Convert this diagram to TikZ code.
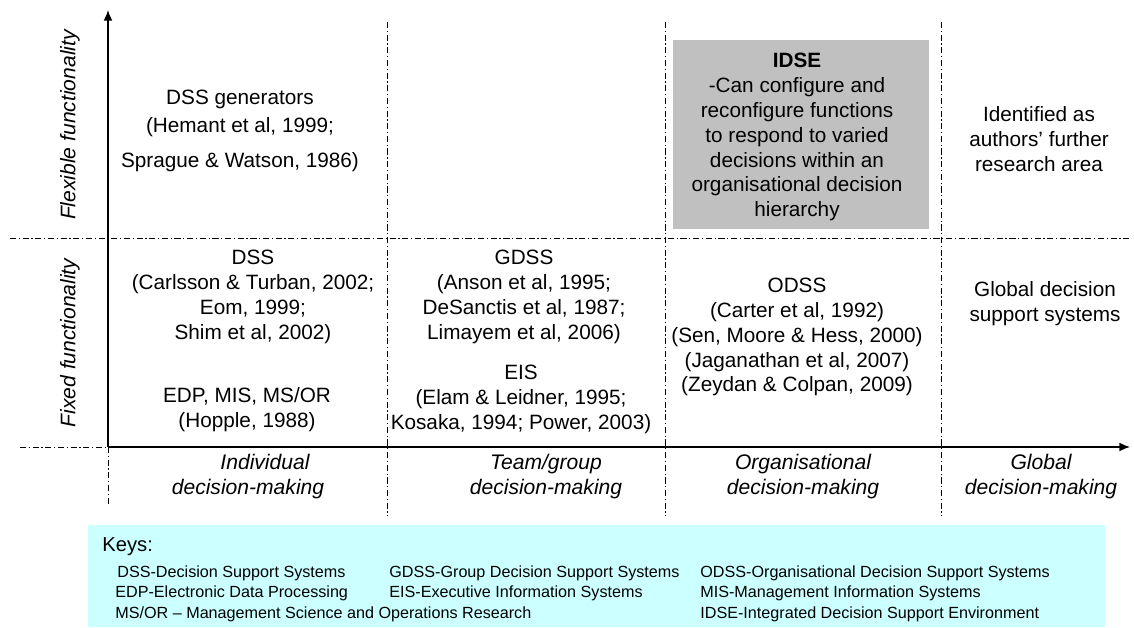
\documentclass[tikz,border=0pt]{standalone}
\usepackage{fontspec}
\setmainfont{Liberation Sans}
\usepackage{tikz}
\usetikzlibrary{positioning}
\usetikzlibrary{arrows.meta}

\definecolor{idsegray}{RGB}{192,192,192}
\definecolor{keycyan}{RGB}{204,255,255}

\begin{document}
\begin{tikzpicture}[x=0.02cm, y=-0.02cm,
    cell/.style = {align=center, inner sep=0pt, font=\fontsize{11.8}{14.2}\selectfont},
    axislabel/.style = {align=center, inner sep=0pt, font=\fontsize{12}{14.2}\selectfont\itshape},
    axis/.style = {line width=0.8pt, -{Latex[length=6pt, width=5pt]}},
    divider/.style = {line width=0.5pt, dash pattern=on 3.5pt off 1.5pt on 0.7pt off 1.5pt},
    keyline/.style = {anchor=west, inner sep=0pt, font=\fontsize{9.2}{11}\selectfont}]

    \useasboundingbox (0,0) rectangle (1134,628);

    % boxes behind the text
    \node[fill=idsegray, minimum width=5.12cm, minimum height=3.78cm] (idsebox) at (801,134.5) {};
    \node[fill=keycyan, minimum width=20.34cm, minimum height=2.04cm, anchor=north west] (keybox) at (88,525) {};

    % grid
    \coordinate (O) at (108,447);
    \coordinate (ytop) at (108,10);
    \coordinate (xend) at (1130,447);
    \coordinate (xstart) at (20,447);
    \coordinate (ybot) at (108,506);
    \coordinate (midL) at (10,238);
    \coordinate (midR) at (1130,238);
    \coordinate (d1t) at (387,22);
    \coordinate (d1b) at (387,516);
    \coordinate (d2t) at (665,22);
    \coordinate (d2b) at (665,516);
    \coordinate (d3t) at (941,22);
    \coordinate (d3b) at (941,516);

    \draw[divider] (midL) -- (midR);
    \draw[divider] (xstart) -- (O);
    \draw[divider] (O) -- (ybot);
    \draw[divider] (d1t) -- (d1b);
    \draw[divider] (d2t) -- (d2b);
    \draw[divider] (d3t) -- (d3b);
    \draw[axis] (O) -- (ytop);
    \draw[axis] (O) -- (xend);

    % vertical scale
    \node[axislabel, rotate=90] (flex) at (70,125) {Flexible functionality};
    \node[axislabel, rotate=90] (fixed) at (70,343) {Fixed functionality};

    % horizontal scale
    \node[axislabel] (indiv) at (248,477) {\hspace*{0.68cm}Individual\\ decision-making};
    \node[axislabel] (team) at (546,477) {Team/group\\ decision-making};
    \node[axislabel] (organ) at (803,477) {Organisational\\ decision-making};
    \node[axislabel] (global) at (1041,477) {Global\\ decision-making};

    % flexible row
    \node[cell] (gen) at (240,131) {DSS generators\\[1.7pt] (Hemant et al, 1999;\\[5.7pt] Sprague \& Watson, 1986)};
    \node[cell] (idse) at (797,137) {\textbf{IDSE}\\ -Can configure and\\ reconfigure functions\\ to respond to varied\\ decisions within an\\ organisational decision\\ hierarchy};
    \node[cell] (further) at (1039,139) {Identified as\\ authors' further\\ research area};

    % fixed row
    \node[cell] (dss) at (253,297) {DSS\\ (Carlsson \& Turban, 2002;\\ Eom, 1999;\\ Shim et al, 2002)};
    \node[cell] (edp) at (247,410) {EDP, MIS, MS/OR\\ (Hopple, 1988)};
    \node[cell] (gdss) at (524,297) {GDSS\\ (Anson et al, 1995;\\ DeSanctis et al, 1987;\\ Limayem et al, 2006)};
    \node[cell] (eis) at (521,399) {EIS\\ (Elam \& Leidner, 1995;\\ Kosaka, 1994; Power, 2003)};
    \node[cell] (odss) at (797,337) {ODSS\\ (Carter et al, 1992)\\ (Sen, Moore \& Hess, 2000)\\ (Jaganathan et al, 2007)\\ (Zeydan \& Colpan, 2009)};
    \node[cell] (gdsys) at (1045,304) {Global decision\\ support systems};

    % keys
    \node[keyline, font=\fontsize{11.5}{14}\selectfont] (keys) at (102,547) {Keys:};
    \node[keyline] (k1) at (117,573) {DSS-Decision Support Systems};
    \node[keyline] (k2) at (115,593) {EDP-Electronic Data Processing};
    \node[keyline] (k3) at (115,614) {MS/OR -- Management Science and Operations Research};
    \node[keyline] (k4) at (389,573) {GDSS-Group Decision Support Systems};
    \node[keyline] (k5) at (389,593) {EIS-Executive Information Systems};
    \node[keyline] (k6) at (700,573) {ODSS-Organisational Decision Support Systems};
    \node[keyline] (k7) at (700,593) {MIS-Management Information Systems};
    \node[keyline] (k8) at (700,614) {IDSE-Integrated Decision Support Environment};

\end{tikzpicture}
\end{document}
